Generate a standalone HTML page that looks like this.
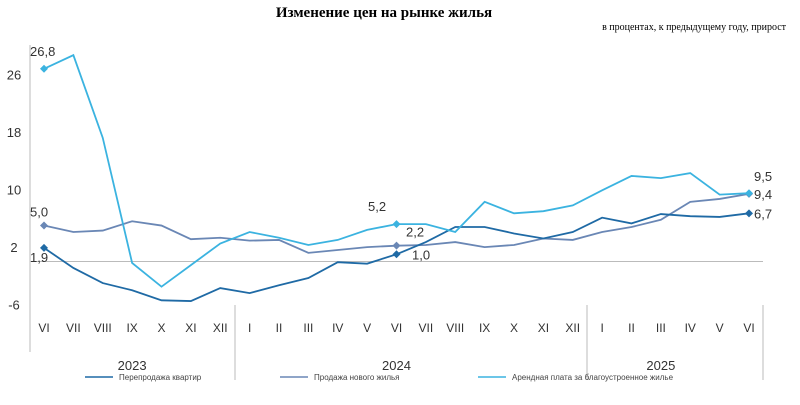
<!DOCTYPE html>
<html><head><meta charset="utf-8"><style>
body{margin:0;background:#fff;}
svg text{font-family:"Liberation Sans",sans-serif;}
</style></head><body>
<svg id="c" width="800" height="400" xmlns="http://www.w3.org/2000/svg">
<text x="384" y="17" text-anchor="middle" style="font-family:'Liberation Serif',serif;font-weight:bold;font-size:15px">Изменение цен на рынке жилья</text>
<text x="786" y="30" text-anchor="end" style="font-family:'Liberation Serif',serif;font-size:10px">в процентах, к предыдущему году, прирост</text>
<g id="g"></g>
</svg>
<script>
const months=["VI","VII","VIII","IX","X","XI","XII","I","II","III","IV","V","VI","VII","VIII","IX","X","XI","XII","I","II","III","IV","V","VI"];
const years=["2023","2024","2025"];
const yTicks=[26,18,10,2,-6];
const resale=[1.9,-0.9,-3.0,-4.0,-5.4,-5.5,-3.7,-4.4,-3.3,-2.3,-0.1,-0.3,1.0,2.7,4.8,4.8,3.9,3.2,4.1,6.1,5.3,6.6,6.3,6.2,6.7];
const newHousing=[5.0,4.1,4.3,5.6,5.0,3.1,3.3,2.9,3.0,1.2,1.6,2.0,2.2,2.3,2.7,2.0,2.3,3.2,3.0,4.1,4.8,5.8,8.3,8.7,9.4];
const rent=[26.8,28.7,17.2,-0.2,-3.5,-0.5,2.5,4.1,3.3,2.3,3.0,4.4,5.2,5.2,4.1,8.3,6.7,7.0,7.8,9.9,11.9,11.6,12.3,9.3,9.5];
const NS="http://www.w3.org/2000/svg";
const g=document.getElementById('g');
const x=i=>44+i*29.375;
const y=v=>261.5-v*7.19;
function mk(t,a,txt){const e=document.createElementNS(NS,t);for(const k in a)e.setAttribute(k,a[k]);if(txt!=null)e.textContent=txt;g.appendChild(e);return e;}
let e;
e=mk('line',{x1:30,y1:45,x2:30,y2:352,stroke:'#bbb'});


e=mk('line',{x1:30,y1:y(0),x2:763,y2:y(0),stroke:'#bbb'});


[235,587,763].forEach(sx=>{e=mk('line',{x1:sx,y1:305,x2:sx,y2:380,stroke:'#bbb'});

});
yTicks.forEach(t=>{e=mk('text',{x:14,y:y(t)+5,'text-anchor':'middle','font-size':'13','fill':'#333'},String(t));

});
months.forEach((m,i)=>{e=mk('text',{x:x(i),y:332,'text-anchor':'middle','font-size':'12','fill':'#333'},m);

});
const yx=[x(3),x(12),x(21)];
years.forEach((yr,i)=>{e=mk('text',{x:yx[i],y:370,'text-anchor':'middle','font-size':'13','fill':'#333'},yr);

});
function series(data,color,name){
 e=mk('polyline',{points:data.map((v,i)=>x(i)+','+y(v)).join(' '),fill:'none',stroke:color,'stroke-width':'1.8'});
 
 
 [0,12,24].forEach(i=>{const cx=x(i),cy=y(data[i]);
  e=mk('polygon',{points:`${cx},${cy-4} ${cx+4},${cy} ${cx},${cy+4} ${cx-4},${cy}`,fill:color});
  
  });
}
series(newHousing,'#6a87b5','new-housing');
series(resale,'#1f6aa5','resale');
series(rent,'#3bb3e0','rent');
const f=v=>v.toFixed(1).replace('.',',');
const labs=[[rent,0,30,56],[newHousing,0,30,y(newHousing[0])-9],[resale,0,30,y(resale[0])+14],
[rent,12,368,y(rent[12])-13],[newHousing,12,406,y(newHousing[12])-9],[resale,12,412,y(resale[12])+5],
[rent,24,754,y(rent[24])-12],[newHousing,24,754,y(newHousing[24])+5],[resale,24,754,y(resale[24])+5]];
labs.forEach(l=>{e=mk('text',{x:l[2],y:l[3],'font-size':'13','fill':'#333'},f(l[0][l[1]]));

});
const leg=[["Перепродажа квартир",'#1f6aa5',85],["Продажа нового жилья",'#6a87b5',280],["Арендная плата за благоустроенное жилье",'#3bb3e0',478]];
leg.forEach(L=>{e=mk('line',{x1:L[2],y1:377,x2:L[2]+28,y2:377,stroke:L[1],'stroke-width':'1.5'});


e=mk('text',{x:L[2]+34,y:380,'font-size':'8','fill':'#444'},L[0]);

});
</script>
</body></html>
